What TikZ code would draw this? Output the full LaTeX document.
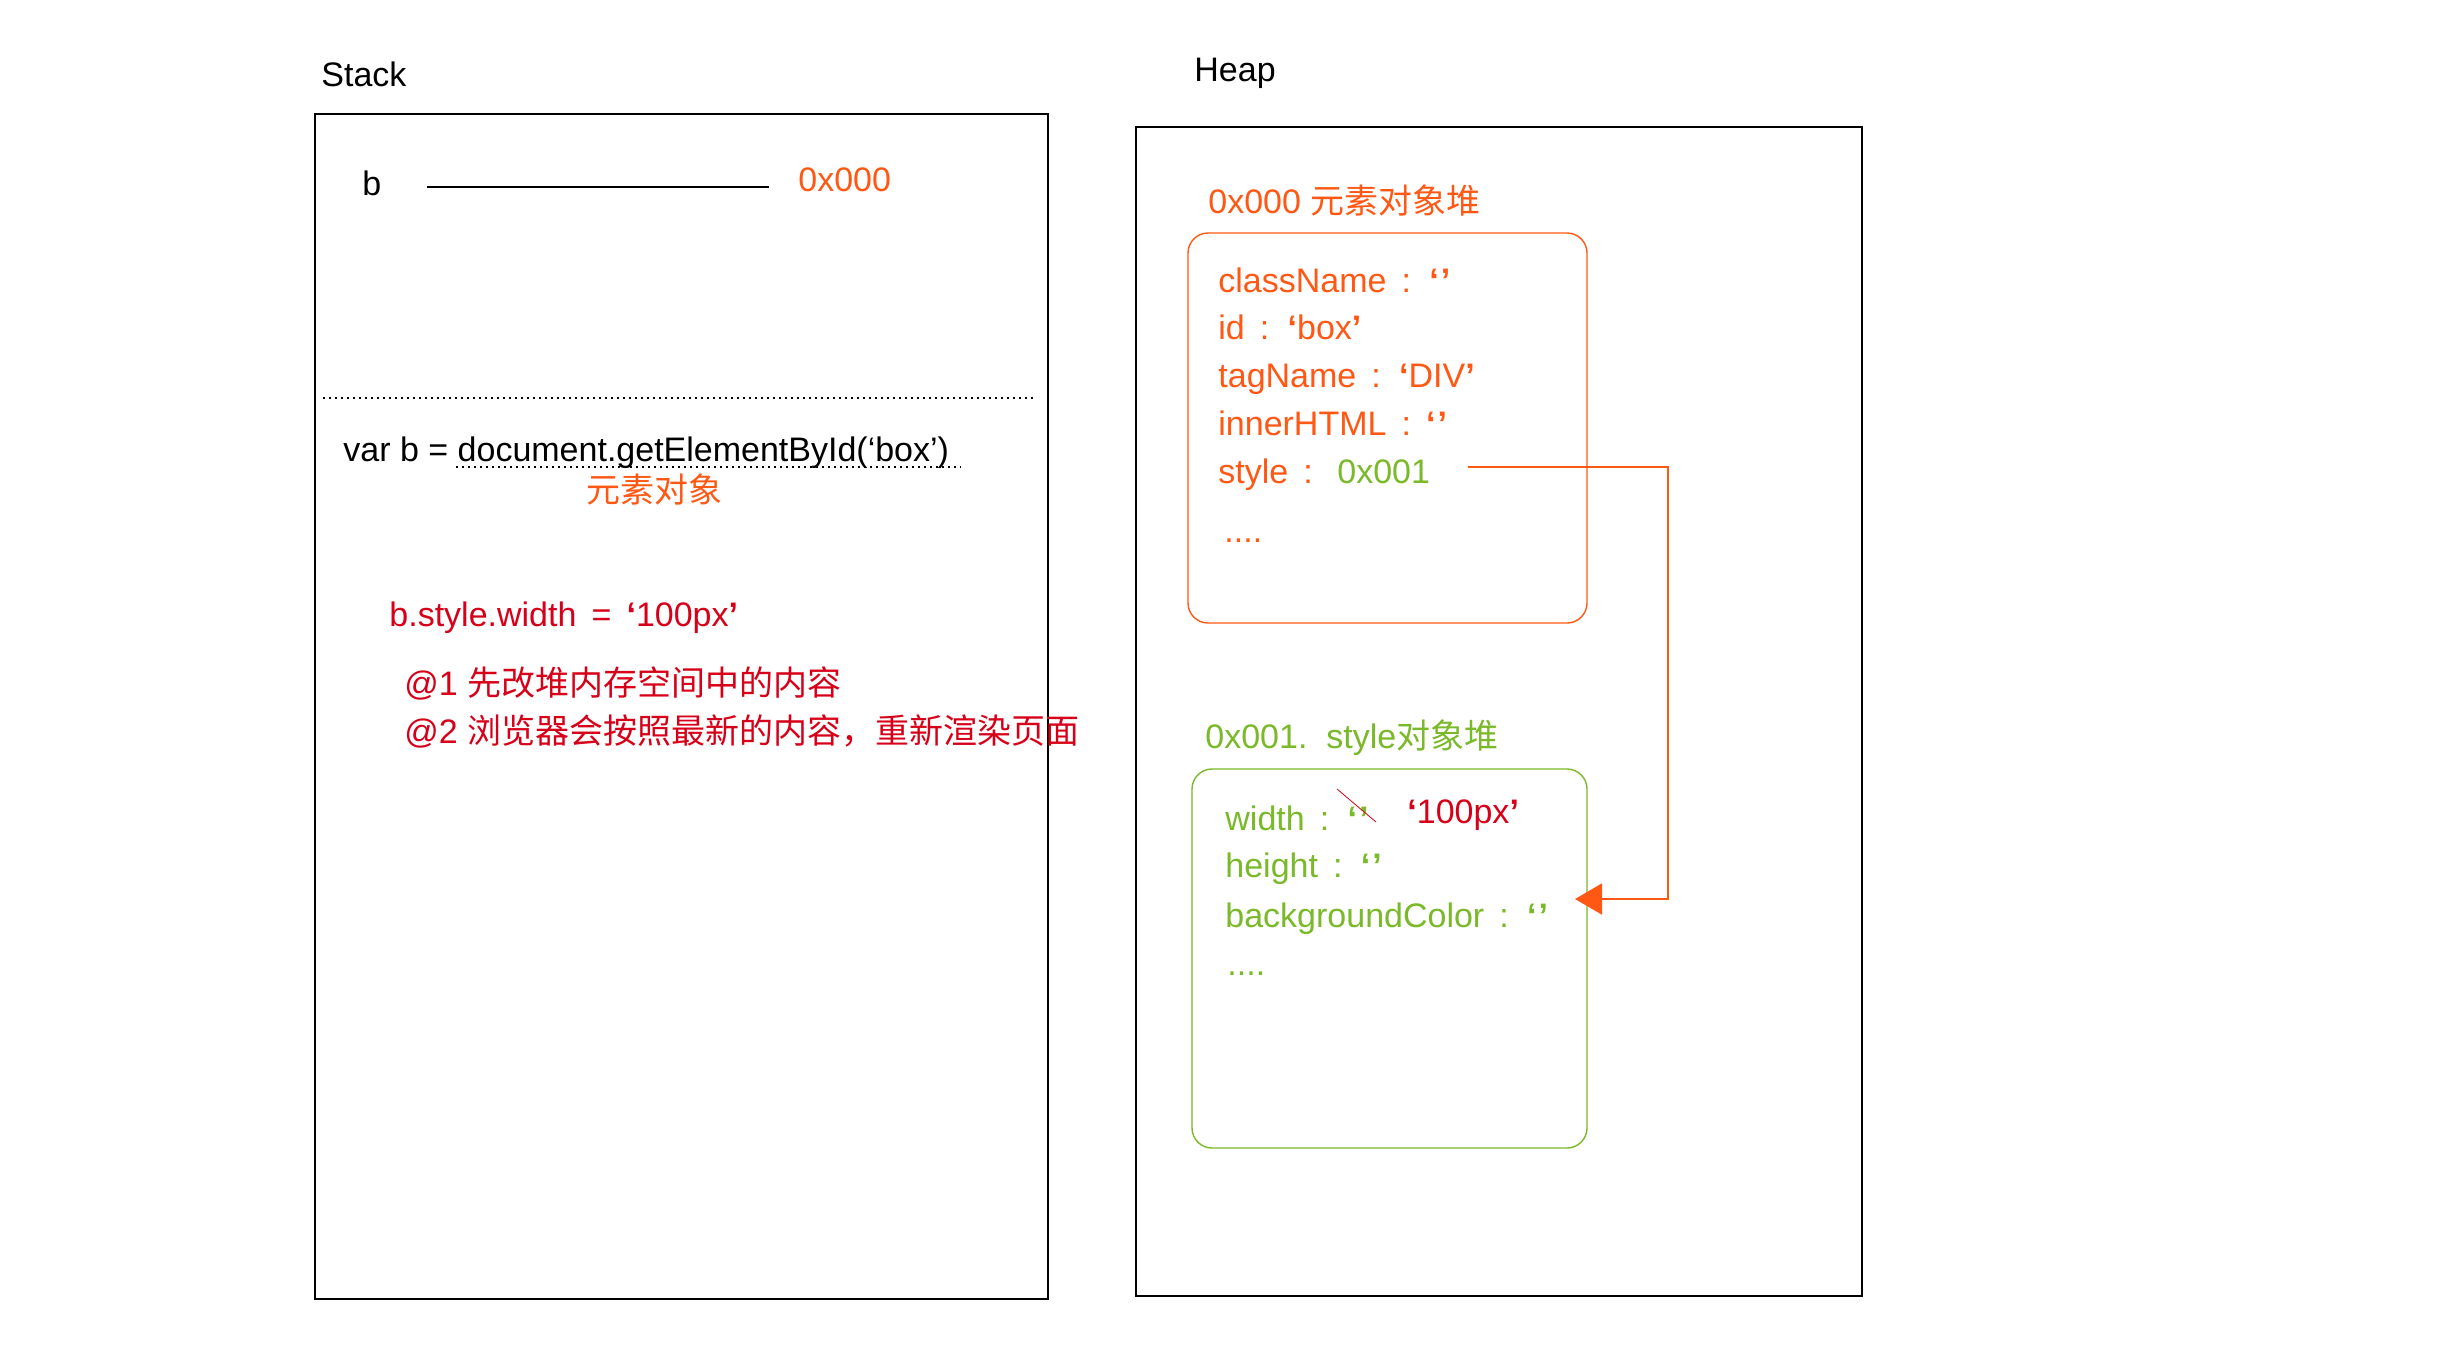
\documentclass[tikz,border=0pt]{standalone}
\usepackage{fontspec}
\setmainfont{Liberation Sans}
\newfontfamily\widesp[WordSpace=1.6]{Liberation Sans}
\newfontfamily\cjk{Noto Sans CJK SC}
\usetikzlibrary{arrows.meta,calc}
\definecolor{memorange}{RGB}{255,88,20}
\definecolor{memgreen}{RGB}{122,185,41}
\definecolor{memred}{RGB}{215,0,25}
\newcommand\qopen{{\bfseries ‘}}
\newcommand\qclose{{\bfseries ’}}
\newcommand\qempty{{\bfseries ‘\kern1pt’}}
\tikzset{
  txt/.style={anchor=base west, inner sep=0pt, text height=12pt, text depth=4pt,
    font=\fontsize{17}{20}\selectfont},
  field/.style={txt, font=\fontsize{17}{20}\widesp},
  frame/.style={draw=black, line width=0.75pt},
  heapbox/.style={draw=#1, line width=0.7pt, rounded corners=10pt},
  link/.style={draw=memorange, line width=1pt, -{Triangle[length=13.5pt,width=15.5pt]}}
}
\begin{document}
\begin{tikzpicture}[x=0.5pt, y=-0.5pt]
    \useasboundingbox (0,0) rectangle (2457,1362);

    % Stack
    \node[txt] (stacklbl) at (321,86) {Stack};
    \draw[frame] (315,114) rectangle (1048,1299);
    \node[txt] (b) at (362,195) {b};
    \node[txt, text=memorange] (baddr) at (798,191) {0x000};
    \draw[line width=0.9pt, shorten <=22.5pt, shorten >=14.5pt] (b.east) -- (b.east -| baddr.west);
    \draw[dotted, line width=1pt] (323,398) -- (1034,398);

    \node[txt] (getel) at (343,461) {var b = document.getElementById(‘box’)};
    \draw[dotted, line width=1pt] (456,467) -- (961,467);
    \node[txt, text=memorange] (elemobj) at (586,502) {\cjk 元素对象};

    \node[field, text=memred] (assign) at (389,626) {b.style.width = \qopen 100px\qclose};
    \node[txt, text=memred] (note1) at (404,695) {@1 {\cjk 先改堆内存空间中的内容}};
    \node[txt, text=memred] (note2) at (404,743) {@2 {\cjk 浏览器会按照最新的内容，重新渲染页面}};

    % Heap
    \node[txt] (heaplbl) at (1194,81) {Heap};
    \draw[frame] (1136,127) rectangle (1862,1296);

    % element object
    \node[txt, text=memorange] (elemhead) at (1208,213) {0x000 {\cjk 元素对象堆}};
    \draw[heapbox=memorange] (1188,233) rectangle (1587,623);
    \node[field, text=memorange] (cls) at (1218,292) {className : \qempty};
    \node[field, text=memorange] (id) at (1218,339) {id : \qopen box\qclose};
    \node[field, text=memorange] (tag) at (1218,387) {tagName : \qopen DIV\qclose};
    \node[field, text=memorange] (inner) at (1218,435) {innerHTML : \qempty};
    \node[field, text=memorange] (sty) at (1218,483) {style :};
    \node[txt, text=memgreen] (ptr) at (1337,483) {0x001};
    \node[txt, text=memorange] (edots) at (1224,542) {....};

    % style object
    \node[txt, text=memgreen] (stylehead) at (1205,748) {0x001.\ \ style{\cjk 对象堆}};
    \draw[heapbox=memgreen] (1192,769) rectangle (1587,1148);
    \node[field, text=memgreen] (wid) at (1225,830) {width : \qempty};
    \node[field, text=memgreen] (hgt) at (1225,877) {height : \qempty};
    \node[field, text=memgreen] (bgc) at (1225,927) {backgroundColor : \qempty};
    \node[txt, text=memgreen] (sdots) at (1227,975) {....};
    \node[txt, text=memred] (newval) at (1407,823) {\qopen 100px\qclose};
    \draw[memred, line width=0.4pt] (1337,789) -- (1376,822);

    % pointer style -> style object
    \coordinate (tap) at ([shift={(38,-8)}]ptr.east);
    \coordinate (turn) at (1668,899);
    \coordinate (tip) at (1575,899);
    \draw[link] (tap) -| (turn) -- (tip);
\end{tikzpicture}
\end{document}
